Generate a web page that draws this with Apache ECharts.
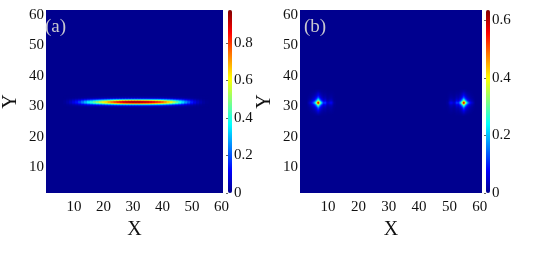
<!DOCTYPE html>
<html><head><meta charset="utf-8">
<script src="https://cdn.jsdelivr.net/npm/echarts@6/dist/echarts.min.js"></script>
<style>html,body{margin:0;padding:0;background:#fff}#c{width:550px;height:261px}</style>
</head><body><div id="c"></div>
<script>
// ---------- tick labels ----------
const xTicks = [10, 20, 30, 40, 50, 60];
const yTicks = [10, 20, 30, 40, 50, 60];
const cbTicksA = [0, 0.2, 0.4, 0.6, 0.8];
const cbTicksB = [0, 0.2, 0.4, 0.6];
const cbMaxA = 0.976;
const cbMaxB = 0.636;
const panelLabels = ['(a)', '(b)'];

// ---------- panel (a): horizontal ridge ----------
// value along the ridge centre line for X = 1..60
const ridgePeak = [
  0, 0, 0, 0, 0, 0, 0.01, 0.03, 0.06, 0.10,
  0.14, 0.19, 0.25, 0.31, 0.37, 0.42, 0.47, 0.52, 0.57, 0.62,
  0.67, 0.72, 0.77, 0.82, 0.86, 0.89, 0.92, 0.94, 0.95, 0.96,
  0.96, 0.96, 0.95, 0.94, 0.93, 0.91, 0.89, 0.86, 0.83, 0.79,
  0.74, 0.68, 0.62, 0.55, 0.48, 0.41, 0.34, 0.27, 0.21, 0.15,
  0.10, 0.06, 0.035, 0.015, 0.005, 0, 0, 0, 0, 0
];
const ridgeCenterY = 31.5;
const ridgeYOffsets = [-1.75, -1.5, -1.25, -1, -0.75, -0.5, -0.25, 0, 0.25, 0.5, 0.75, 1, 1.25, 1.5, 1.75];
const ridgeYShape   = [0.015, 0.04, 0.1, 0.25, 0.45, 0.72, 0.92, 1, 0.92, 0.72, 0.45, 0.25, 0.1, 0.04, 0.015];

// ---------- panel (b): two localized spots ----------
const spotCentersX = [6.875, 54.625];
const spotMirror = [1, -1];          // right spot is the mirror image of the left one
const spotCenterY = 31.25;
const spotPeak = 0.635;
const spotXOffsets = [-3.5, -3.25, -3, -2.75, -2.5, -2.25, -2, -1.75, -1.5, -1.25, -1, -0.75, -0.5, -0.25,
  0, 0.25, 0.5, 0.75, 1, 1.25, 1.5, 1.75, 2, 2.25, 2.5, 2.75, 3, 3.25, 3.5, 3.75, 4, 4.25, 4.5, 4.75, 5, 5.25, 5.5];
const spotXShape = [0.02, 0.035, 0.05, 0.07, 0.09, 0.12, 0.15, 0.19, 0.24, 0.3, 0.37, 0.48, 0.62, 0.85,
  1, 0.85, 0.62, 0.48, 0.37, 0.3, 0.22, 0.17, 0.17, 0.2, 0.17, 0.11, 0.08, 0.07, 0.08, 0.1, 0.11, 0.12, 0.1, 0.07, 0.04, 0.02, 0.01];
const spotYOffsets = [-4, -3.75, -3.5, -3.25, -3, -2.75, -2.5, -2.25, -2, -1.75, -1.5, -1.25, -1, -0.75, -0.5, -0.25,
  0, 0.25, 0.5, 0.75, 1, 1.25, 1.5, 1.75, 2, 2.25, 2.5, 2.75, 3, 3.25, 3.5, 3.75, 4];
const spotYShape = [0.02, 0.03, 0.045, 0.06, 0.08, 0.1, 0.12, 0.15, 0.18, 0.22, 0.27, 0.33, 0.41, 0.52, 0.68, 0.87,
  1, 0.87, 0.68, 0.52, 0.41, 0.33, 0.27, 0.22, 0.18, 0.15, 0.12, 0.1, 0.08, 0.06, 0.045, 0.03, 0.02];

// ---------- cell grids (category axes used by the heatmaps) ----------
const gridA = { x0: 1, xStep: 1, nx: 60, y0: 1.75, yStep: 0.25, ny: 240 };
const gridB = { x0: 0.875, xStep: 0.25, nx: 240, y0: 1.75, yStep: 0.25, ny: 240 };

const jet = ['#00008f', '#0000ff', '#0080ff', '#00ffff', '#80ff80', '#ffff00', '#ff8000', '#ff0000', '#800000'];
const bg = jet[0];
const font = 'Liberation Serif';

function cats(n, start, step) { const a = []; for (let i = 0; i < n; i++) a.push(start + i * step); return a; }
function idx(v, start, step) { return Math.round((v - start) / step); }

const dataA = [];
ridgePeak.forEach((p, i) => {
  if (p <= 0) return;
  const X = i + 1;
  ridgeYOffsets.forEach((dy, j) => {
    const v = p * ridgeYShape[j];
    dataA.push([idx(X, gridA.x0, gridA.xStep), idx(ridgeCenterY + dy, gridA.y0, gridA.yStep), v]);
  });
});

const dataB = [];
spotCentersX.forEach((cx, s) => {
  spotXOffsets.forEach((dx, i) => {
    spotYOffsets.forEach((dy, j) => {
      const v = spotPeak * spotXShape[i] * spotYShape[j];
      if (v < 0.002) return;
      dataB.push([idx(cx + spotMirror[s] * dx, gridB.x0, gridB.xStep), idx(spotCenterY + dy, gridB.y0, gridB.yStep), v]);
    });
  });
});

const L = [41, 300], T = 10, W = 182, H = 183;
const CB = [228, 486], CBW = 4;

function hiddenCat(gi, data, pos) { return { type: 'category', gridIndex: gi, data: data, show: false, position: pos, boundaryGap: true }; }
const labelStyle = { fontFamily: font, fontSize: 15, color: '#111' };
const nameStyle = { fontFamily: font, fontSize: 20, color: '#111' };

const option = {
  animation: false,
  grid: [
    { left: L[0], top: T, width: W, height: H, backgroundColor: bg, show: true, borderWidth: 0 },
    { left: L[1], top: T, width: W, height: H, backgroundColor: bg, show: true, borderWidth: 0 },
    { left: CB[0], top: T, width: CBW, height: H },
    { left: CB[1], top: T, width: CBW, height: H }
  ],
  xAxis: [
    hiddenCat(0, cats(gridA.nx, gridA.x0, gridA.xStep), 'top'),
    { type: 'value', gridIndex: 0, position: 'bottom', min: 0.5, max: 60.5,
      axisLine: { show: false }, axisTick: { show: false }, splitLine: { show: false },
      axisLabel: Object.assign({ customValues: xTicks, margin: 7 }, labelStyle),
      name: 'X', nameLocation: 'middle', nameGap: 25, nameTextStyle: nameStyle },
    hiddenCat(1, cats(gridB.nx, gridB.x0, gridB.xStep), 'top'),
    { type: 'value', gridIndex: 1, position: 'bottom', min: 0.75, max: 60.75,
      axisLine: { show: false }, axisTick: { show: false }, splitLine: { show: false },
      axisLabel: Object.assign({ customValues: xTicks, margin: 7 }, labelStyle),
      name: 'X', nameLocation: 'middle', nameGap: 25, nameTextStyle: nameStyle },
    { type: 'value', gridIndex: 2, show: false },
    { type: 'value', gridIndex: 3, show: false }
  ],
  yAxis: [
    hiddenCat(0, cats(gridA.ny, gridA.y0, gridA.yStep), 'right'),
    { type: 'value', gridIndex: 0, position: 'left', min: 1.625, max: 61.625,
      axisLine: { show: false }, axisTick: { show: false }, splitLine: { show: false },
      axisLabel: Object.assign({ customValues: yTicks, margin: 2 }, labelStyle),
      name: 'Y', nameLocation: 'middle', nameGap: 25, nameTextStyle: nameStyle },
    hiddenCat(1, cats(gridB.ny, gridB.y0, gridB.yStep), 'right'),
    { type: 'value', gridIndex: 1, position: 'left', min: 1.625, max: 61.625,
      axisLine: { show: false }, axisTick: { show: false }, splitLine: { show: false },
      axisLabel: Object.assign({ customValues: yTicks, margin: 2 }, labelStyle),
      name: 'Y', nameLocation: 'middle', nameGap: 25, nameTextStyle: nameStyle },
    { type: 'value', gridIndex: 2, position: 'right', min: 0, max: cbMaxA,
      axisLine: { show: false }, splitLine: { show: false },
      axisTick: { show: true, inside: true, length: 2, customValues: cbTicksA, lineStyle: { color: 'rgba(0,0,0,0.6)' } },
      axisLabel: Object.assign({ customValues: cbTicksA, margin: 2 }, labelStyle) },
    { type: 'value', gridIndex: 3, position: 'right', min: 0, max: cbMaxB,
      axisLine: { show: false }, splitLine: { show: false },
      axisTick: { show: true, inside: true, length: 2, customValues: cbTicksB, lineStyle: { color: 'rgba(0,0,0,0.6)' } },
      axisLabel: Object.assign({ customValues: cbTicksB, margin: 2 }, labelStyle) }
  ],
  visualMap: [
    { type: 'continuous', seriesIndex: 0, min: 0, max: cbMaxA, calculable: false, hoverLink: false,
      orient: 'vertical', left: CB[0], top: T, itemWidth: CBW, itemHeight: H, padding: 0,
      inRange: { color: jet } },
    { type: 'continuous', seriesIndex: 1, min: 0, max: cbMaxB, calculable: false, hoverLink: false,
      orient: 'vertical', left: CB[1], top: T, itemWidth: CBW, itemHeight: H, padding: 0,
      inRange: { color: jet } }
  ],
  series: [
    { type: 'heatmap', xAxisIndex: 0, yAxisIndex: 0, data: dataA, progressive: 0, emphasis: { disabled: true } },
    { type: 'heatmap', xAxisIndex: 2, yAxisIndex: 2, data: dataB, progressive: 0, emphasis: { disabled: true } }
  ],
  graphic: [
    { type: 'text', left: 45, top: 18, style: { text: panelLabels[0], fontFamily: font, fontSize: 19, fill: '#c8c8d0' }, z: 100 },
    { type: 'text', left: 304, top: 18, style: { text: panelLabels[1], fontFamily: font, fontSize: 19, fill: '#c8c8d0' }, z: 100 }
  ]
};
const chart = echarts.init(document.getElementById('c'), null, { renderer: 'canvas' });
chart.setOption(option);
</script>
</body></html>
